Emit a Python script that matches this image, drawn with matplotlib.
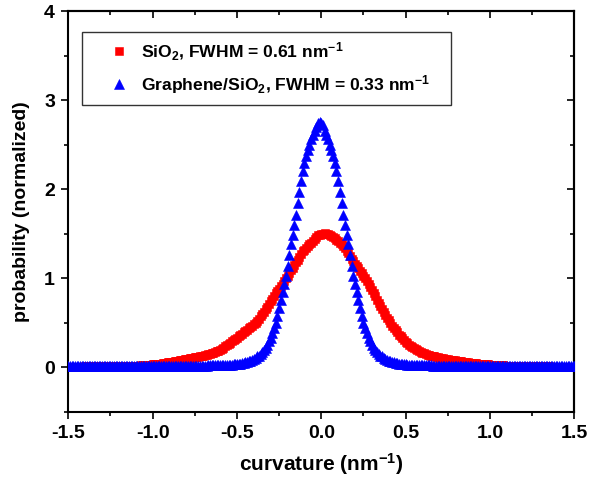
import numpy as np
import matplotlib
matplotlib.use("Agg")
import matplotlib.pyplot as plt
from matplotlib.ticker import MultipleLocator, FixedLocator

plt.rcParams["font.family"] = ["Liberation Sans", "DejaVu Sans"]
plt.rcParams["font.weight"] = "bold"
plt.rcParams["mathtext.fontset"] = "custom"
plt.rcParams["mathtext.rm"] = "Liberation Sans:bold"
plt.rcParams["mathtext.it"] = "Liberation Sans:bold"
plt.rcParams["mathtext.bf"] = "Liberation Sans:bold"
plt.rcParams["mathtext.default"] = "rm"

# curvature bins (nm^-1), 0.01 wide, from -1.5 to 1.5
curvature = np.linspace(-1.5, 1.5, 301)

# normalized curvature distribution on bare SiO2
sio2 = [
    0.005, 0.005, 0.005, 0.006, 0.005, 0.006, 0.006, 0.006, 0.006, 0.006,
    0.007, 0.007, 0.007, 0.007, 0.008, 0.008, 0.008, 0.008, 0.008, 0.009,
    0.009, 0.009, 0.009, 0.010, 0.010, 0.010, 0.010, 0.011, 0.011, 0.011,
    0.012, 0.012, 0.012, 0.013, 0.013, 0.013, 0.014, 0.014, 0.014, 0.015,
    0.015, 0.016, 0.017, 0.018, 0.019, 0.020, 0.022, 0.024, 0.026, 0.028,
    0.030, 0.032, 0.034, 0.036, 0.038, 0.040, 0.043, 0.046, 0.050, 0.053,
    0.056, 0.059, 0.062, 0.065, 0.068, 0.071, 0.074, 0.078, 0.082, 0.086,
    0.090, 0.094, 0.098, 0.102, 0.106, 0.110, 0.114, 0.118, 0.122, 0.126,
    0.130, 0.135, 0.140, 0.145, 0.150, 0.156, 0.162, 0.169, 0.176, 0.184,
    0.195, 0.207, 0.220, 0.233, 0.246, 0.260, 0.274, 0.288, 0.302, 0.316,
    0.330, 0.345, 0.360, 0.375, 0.390, 0.405, 0.420, 0.435, 0.450, 0.465,
    0.480, 0.500, 0.520, 0.545, 0.570, 0.595, 0.620, 0.650, 0.680, 0.710,
    0.740, 0.770, 0.800, 0.830, 0.860, 0.880, 0.910, 0.940, 0.970, 1.000,
    1.030, 1.060, 1.090, 1.120, 1.150, 1.180, 1.210, 1.240, 1.270, 1.300,
    1.320, 1.340, 1.360, 1.380, 1.400, 1.420, 1.440, 1.460, 1.480, 1.490,
    1.500, 1.500, 1.510, 1.500, 1.500, 1.480, 1.470, 1.460, 1.450, 1.430,
    1.420, 1.400, 1.380, 1.360, 1.335, 1.310, 1.280, 1.250, 1.220, 1.190,
    1.160, 1.135, 1.110, 1.085, 1.060, 1.030, 1.000, 0.970, 0.935, 0.900,
    0.865, 0.830, 0.795, 0.760, 0.725, 0.690, 0.655, 0.620, 0.585, 0.555,
    0.525, 0.495, 0.465, 0.440, 0.415, 0.390, 0.365, 0.345, 0.325, 0.305,
    0.285, 0.268, 0.252, 0.237, 0.223, 0.210, 0.198, 0.187, 0.177, 0.168,
    0.160, 0.153, 0.146, 0.140, 0.134, 0.129, 0.124, 0.119, 0.114, 0.110,
    0.106, 0.102, 0.098, 0.094, 0.090, 0.087, 0.084, 0.081, 0.078, 0.075,
    0.072, 0.069, 0.066, 0.063, 0.060, 0.057, 0.054, 0.052, 0.050, 0.048,
    0.046, 0.044, 0.042, 0.040, 0.038, 0.036, 0.034, 0.032, 0.031, 0.030,
    0.028, 0.026, 0.025, 0.024, 0.022, 0.021, 0.020, 0.019, 0.018, 0.017,
    0.016, 0.015, 0.014, 0.013, 0.012, 0.012, 0.011, 0.011, 0.010, 0.010,
    0.010, 0.009, 0.009, 0.009, 0.009, 0.008, 0.008, 0.008, 0.008, 0.008,
    0.007, 0.007, 0.007, 0.007, 0.007, 0.007, 0.006, 0.006, 0.006, 0.006,
    0.006, 0.006, 0.006, 0.005, 0.005, 0.005, 0.005, 0.005, 0.005, 0.005,
    0.005,
]

# normalized curvature distribution of graphene on SiO2
graphene = [
    0.010, 0.010, 0.010, 0.010, 0.010, 0.010, 0.010, 0.010, 0.010, 0.010,
    0.010, 0.010, 0.010, 0.010, 0.010, 0.010, 0.010, 0.010, 0.010, 0.010,
    0.010, 0.010, 0.010, 0.010, 0.010, 0.010, 0.010, 0.010, 0.010, 0.010,
    0.010, 0.010, 0.010, 0.010, 0.010, 0.010, 0.010, 0.010, 0.010, 0.010,
    0.010, 0.010, 0.010, 0.010, 0.010, 0.010, 0.010, 0.010, 0.010, 0.010,
    0.010, 0.010, 0.010, 0.010, 0.010, 0.010, 0.010, 0.010, 0.010, 0.010,
    0.010, 0.010, 0.011, 0.011, 0.011, 0.011, 0.012, 0.012, 0.012, 0.012,
    0.013, 0.013, 0.013, 0.014, 0.014, 0.014, 0.015, 0.015, 0.015, 0.016,
    0.016, 0.017, 0.017, 0.018, 0.018, 0.019, 0.019, 0.020, 0.020, 0.021,
    0.022, 0.022, 0.023, 0.024, 0.025, 0.026, 0.027, 0.028, 0.029, 0.030,
    0.030, 0.035, 0.040, 0.045, 0.050, 0.055, 0.060, 0.065, 0.070, 0.080,
    0.090, 0.100, 0.120, 0.130, 0.150, 0.170, 0.190, 0.220, 0.250, 0.290,
    0.330, 0.380, 0.440, 0.500, 0.580, 0.660, 0.750, 0.840, 0.930, 1.030,
    1.140, 1.260, 1.380, 1.490, 1.600, 1.710, 1.840, 1.970, 2.090, 2.200,
    2.290, 2.370, 2.440, 2.500, 2.560, 2.610, 2.660, 2.700, 2.740, 2.760,
    2.750, 2.720, 2.660, 2.610, 2.560, 2.500, 2.440, 2.370, 2.290, 2.200,
    2.090, 1.970, 1.840, 1.710, 1.600, 1.490, 1.380, 1.260, 1.140, 1.030,
    0.930, 0.840, 0.750, 0.660, 0.580, 0.500, 0.440, 0.380, 0.330, 0.290,
    0.250, 0.220, 0.190, 0.170, 0.150, 0.130, 0.120, 0.100, 0.090, 0.080,
    0.070, 0.065, 0.060, 0.055, 0.050, 0.045, 0.040, 0.035, 0.030, 0.030,
    0.029, 0.028, 0.027, 0.026, 0.025, 0.024, 0.023, 0.022, 0.022, 0.021,
    0.020, 0.020, 0.019, 0.019, 0.018, 0.018, 0.017, 0.017, 0.016, 0.016,
    0.015, 0.015, 0.015, 0.014, 0.014, 0.014, 0.013, 0.013, 0.013, 0.012,
    0.012, 0.012, 0.012, 0.011, 0.011, 0.011, 0.011, 0.010, 0.010, 0.010,
    0.010, 0.010, 0.010, 0.010, 0.010, 0.010, 0.010, 0.010, 0.010, 0.010,
    0.010, 0.010, 0.010, 0.010, 0.010, 0.010, 0.010, 0.010, 0.010, 0.010,
    0.010, 0.010, 0.010, 0.010, 0.010, 0.010, 0.010, 0.010, 0.010, 0.010,
    0.010, 0.010, 0.010, 0.010, 0.010, 0.010, 0.010, 0.010, 0.010, 0.010,
    0.010, 0.010, 0.010, 0.010, 0.010, 0.010, 0.010, 0.010, 0.010, 0.010,
    0.010, 0.010, 0.010, 0.010, 0.010, 0.010, 0.010, 0.010, 0.010, 0.010,
    0.010,
]

series_labels = [
    r"SiO$_{2}$, FWHM = 0.61 nm$^{-1}$",
    r"Graphene/SiO$_{2}$, FWHM = 0.33 nm$^{-1}$",
]
x_ticks = [-1.5, -1.0, -0.5, 0.0, 0.5, 1.0, 1.5]
y_ticks = [0, 1, 2, 3, 4]

W, H = 590, 482
fig = plt.figure(figsize=(W / 100, H / 100), dpi=100)
left, right, top, bottom = 68.3, 574.3, 11.5, 411.5
ax = fig.add_axes([left / W, 1 - bottom / H, (right - left) / W, (bottom - top) / H])

ax.plot(curvature, sio2, ls="none", marker="s", ms=6.4, mfc="#ff0000",
        mec="#ff0000", mew=0.4, label=series_labels[0], zorder=2)
ax.plot(curvature, graphene, ls="none", marker="^", ms=7.0, mfc="#0000ff",
        mec="#0000ff", mew=0.4, label=series_labels[1], zorder=3)

ax.set_xlim(-1.5, 1.5)
ax.set_ylim(-0.5, 4)
ax.xaxis.set_major_locator(FixedLocator(x_ticks))
ax.xaxis.set_minor_locator(MultipleLocator(0.25))
ax.yaxis.set_major_locator(FixedLocator(y_ticks))
ax.yaxis.set_minor_locator(MultipleLocator(0.5))
ax.set_xticklabels([f"{v:.1f}" for v in x_ticks])
ax.set_yticklabels([str(v) for v in y_ticks])

for s in ax.spines.values():
    s.set_linewidth(1.5)

ax.tick_params(which="both", direction="out", top=False, right=False,
               width=1.2, labelsize=14)
ax.tick_params(which="major", length=5, pad=4.5)
ax.tick_params(which="minor", length=3)

# mirrored inward ticks on the top and right edges
ax_t = ax.secondary_xaxis("top")
ax_t.xaxis.set_major_locator(FixedLocator(x_ticks))
ax_t.xaxis.set_minor_locator(MultipleLocator(0.25))
ax_t.tick_params(which="both", direction="in", width=1.2, labeltop=False)
ax_t.tick_params(which="major", length=5)
ax_t.tick_params(which="minor", length=3)
ax_t.spines["top"].set_linewidth(1.5)
ax_r = ax.secondary_yaxis("right")
ax_r.yaxis.set_major_locator(FixedLocator(y_ticks))
ax_r.yaxis.set_minor_locator(MultipleLocator(0.5))
ax_r.tick_params(which="both", direction="in", width=1.2, labelright=False)
ax_r.tick_params(which="major", length=5)
ax_r.tick_params(which="minor", length=3)
ax_r.spines["right"].set_linewidth(1.5)

for lab in ax.get_xticklabels() + ax.get_yticklabels():
    lab.set_fontweight("bold")

ax.set_xlabel(r"curvature (nm$^{-1}$)", fontsize=15, fontweight="bold", labelpad=7)
ax.set_ylabel("probability (normalized)", fontsize=14, fontweight="bold", labelpad=10)

x0 = (81.7 - left) / (right - left)
x1 = (450.7 - left) / (right - left)
y1 = (bottom - 31.7) / (bottom - top)
leg = ax.legend(loc="upper left", bbox_to_anchor=(x0, y1 - 0.2, x1 - x0, 0.2),
                mode="expand", borderaxespad=0, borderpad=0.5, fontsize=12.6,
                handlelength=3.3, handletextpad=-0.4, labelspacing=0.6,
                fancybox=False, frameon=True, markerscale=1.0)
leg.get_frame().set_edgecolor("black")
leg.get_frame().set_linewidth(1.0)

fig.savefig("out.png", dpi=100)
